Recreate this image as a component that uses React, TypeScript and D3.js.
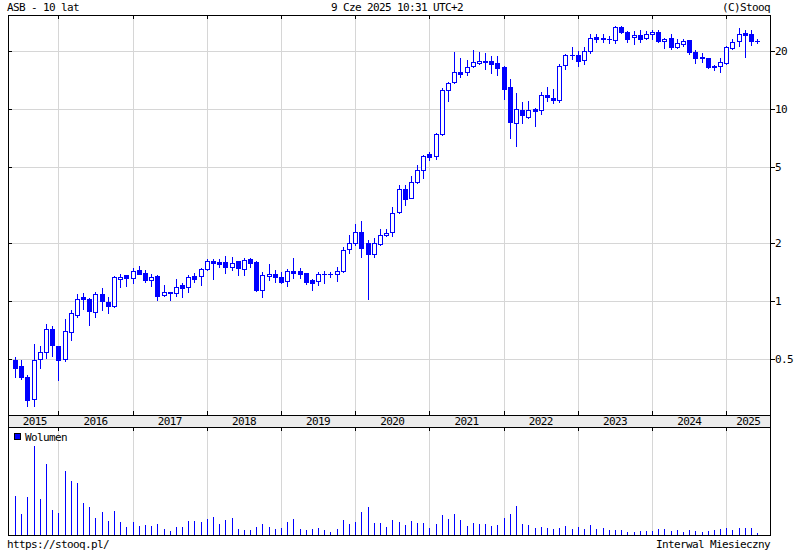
import React from 'react';
import * as d3 from 'd3';

// Monthly candles, Jun 2015 .. Jun 2025
const months: Date[] = d3.timeMonth.range(new Date(2015, 5, 1), new Date(2025, 6, 1));

const open = [
  0.49, 0.46, 0.40, 0.31, 0.50, 0.54, 0.715, 0.58, 0.50, 0.69,
  0.85, 1.05, 1.03, 0.88, 1.09, 0.99, 0.945, 1.30, 1.365, 1.31,
  1.45, 1.40, 1.28, 1.35, 1.07, 1.12, 1.10, 1.21, 1.18, 1.35,
  1.35, 1.46, 1.615, 1.60, 1.60, 1.50, 1.615, 1.475, 1.65, 1.60,
  1.14, 1.345, 1.385, 1.34, 1.265, 1.43, 1.43, 1.40, 1.285, 1.265,
  1.375, 1.38, 1.38, 1.44, 1.86, 2.01, 2.29, 2.0, 1.75, 1.98,
  2.20, 2.28, 2.90, 3.82, 3.45, 4.15, 4.79, 5.83, 5.69, 7.4,
  12.5, 13.9, 15.55, 15.5, 16.7, 17.4, 17.8, 17.7, 17.3, 16.5,
  12.95, 8.43, 9.92, 9.05, 10.0, 9.85, 11.9, 11.37, 11.14, 16.9,
  19.0, 19.1, 18.0, 20.05, 23.7, 23.2, 23.1, 22.8, 26.8, 25.3,
  23.6, 24.3, 23.4, 24.6, 25.1, 22.7, 23.4, 21.1, 21.75, 22.9,
  19.9, 18.7, 18.35, 16.75, 16.85, 17.45, 20.7, 22.6, 24.75, 24.6,
  22.55,
];
const high = [
  0.51, 0.49, 0.41, 0.60, 0.58, 0.76, 0.74, 0.585, 0.81, 0.90,
  1.09, 1.10, 1.035, 1.11, 1.165, 1.05, 1.35, 1.38, 1.37, 1.48,
  1.52, 1.45, 1.38, 1.365, 1.21, 1.12, 1.30, 1.235, 1.365, 1.40,
  1.485, 1.66, 1.66, 1.655, 1.71, 1.69, 1.62, 1.67, 1.67, 1.61,
  1.415, 1.56, 1.455, 1.41, 1.46, 1.67, 1.48, 1.40, 1.305, 1.42,
  1.43, 1.41, 1.50, 1.92, 2.22, 2.52, 2.61, 2.08, 2.12, 2.36,
  2.36, 3.08, 4.0, 4.02, 4.48, 5.1, 5.76, 6.0, 7.5, 12.8,
  13.9, 19.7, 18.5, 18.0, 20.4, 19.7, 19.5, 18.8, 18.9, 16.75,
  14.3, 12.05, 10.9, 11.0, 10.15, 12.3, 12.95, 12.65, 17.1, 19.35,
  21.05, 20.05, 21.1, 24.5, 24.5, 24.5, 23.95, 27.1, 27.1, 25.6,
  25.6, 25.8, 25.5, 25.8, 25.8, 23.5, 24.5, 23.2, 23.1, 22.95,
  20.2, 19.6, 18.5, 17.05, 18.35, 21.35, 23.2, 26.3, 25.8, 25.8,
  23.2,
];
const low = [
  0.40, 0.394, 0.285, 0.285, 0.45, 0.505, 0.52, 0.39, 0.485, 0.63,
  0.83, 0.905, 0.75, 0.83, 0.90, 0.87, 0.935, 1.18, 1.19, 1.245,
  1.38, 1.26, 1.20, 1.01, 1.065, 1.01, 1.065, 1.05, 1.12, 1.26,
  1.215, 1.455, 1.305, 1.51, 1.40, 1.45, 1.37, 1.37, 1.50, 1.13,
  1.05, 1.28, 1.26, 1.235, 1.19, 1.32, 1.31, 1.23, 1.145, 1.21,
  1.245, 1.34, 1.27, 1.42, 1.77, 1.95, 1.70, 1.03, 1.70, 1.96,
  2.18, 2.19, 2.89, 3.15, 3.43, 4.14, 4.37, 5.4, 5.52, 7.35,
  11.05, 13.7, 14.7, 15.05, 16.6, 17.1, 16.1, 15.4, 15.0, 11.3,
  7.08, 6.42, 8.43, 8.98, 8.19, 9.4, 11.0, 10.8, 10.9, 16.25,
  18.15, 16.85, 17.1, 19.5, 22.4, 22.4, 22.0, 22.05, 24.9, 22.4,
  21.8, 22.4, 23.2, 23.2, 22.4, 20.7, 20.55, 20.7, 21.35, 19.4,
  17.3, 17.65, 16.3, 16.0, 15.5, 17.2, 20.55, 21.35, 18.7, 21.65,
  22.1,
];
const close = [
  0.45, 0.40, 0.305, 0.49, 0.54, 0.715, 0.59, 0.49, 0.70, 0.87,
  1.03, 1.02, 0.89, 1.09, 1.00, 0.945, 1.33, 1.34, 1.31, 1.43,
  1.39, 1.28, 1.33, 1.065, 1.12, 1.10, 1.18, 1.175, 1.33, 1.305,
  1.46, 1.615, 1.57, 1.565, 1.50, 1.57, 1.49, 1.635, 1.58, 1.14,
  1.37, 1.38, 1.33, 1.26, 1.43, 1.405, 1.39, 1.255, 1.245, 1.385,
  1.38, 1.385, 1.43, 1.845, 2.00, 2.29, 1.88, 1.76, 2.0, 2.20,
  2.25, 2.87, 3.82, 3.38, 4.17, 4.79, 5.69, 5.65, 7.38, 12.5,
  13.6, 15.5, 15.2, 16.5, 17.55, 17.7, 17.5, 17.1, 16.3, 12.65,
  8.53, 9.96, 9.27, 9.92, 9.8, 11.85, 11.55, 11.14, 16.85, 19.1,
  19.15, 17.7, 20.05, 23.5, 23.05, 23.35, 23.25, 26.6, 25.1, 23.2,
  24.3, 23.15, 24.6, 25.1, 22.6, 23.2, 21.1, 22.0, 22.6, 19.9,
  18.5, 18.35, 16.5, 16.5, 17.5, 20.95, 22.25, 24.6, 24.4, 22.7,
  22.6,
];
// volume, thousands of shares
const volume = [
  39, 21, 38, 89, 36, 71, 25, 22, 64, 54,
  52, 32, 28, 17, 23, 14, 24, 13, 8, 13,
  9, 10, 9, 11, 6, 4, 8, 8, 14, 14,
  13, 16, 18, 11, 15, 17, 6, 5, 5, 8,
  11, 8, 6, 7, 13, 16, 6, 5, 6, 7,
  5, 3, 6, 15, 11, 13, 23, 28, 12, 12,
  8, 15, 13, 10, 14, 12, 12, 7, 11, 20,
  16, 21, 15, 9, 12, 11, 11, 9, 10, 17,
  21, 29, 11, 10, 7, 8, 7, 6, 7, 9,
  6, 8, 6, 10, 6, 7, 5, 5, 5, 3,
  3, 4, 4, 4, 6, 6, 4, 5, 3, 5,
  4, 3, 4, 5, 6, 7, 5, 7, 7, 7,
  2,
];

const yTicks = [0.5, 1, 2, 5, 10, 20];
const years = [2015, 2016, 2017, 2018, 2019, 2020, 2021, 2022, 2023, 2024, 2025];

const BLUE = '#0000ff';
const GRID = '#d6d6d6';
const FONT = 'DejaVu Sans Mono, monospace';

export default function App() {
  const W = 800, H = 550;
  const L = 8, R = 770, T = 15, B = 415, bandB = 427, vB = 535;

  const first = months[0];
  const mIdx = (d: Date) => (d.getFullYear() - first.getFullYear()) * 12 + d.getMonth() - first.getMonth();
  const x = d3.scaleLinear().domain([-1.148, 122.07]).range([L, R]);
  const y = d3.scaleLog().domain([0.2548, 30.88]).range([B, T]);
  const yv = d3.scaleLinear().domain([0, 100]).range([vB, vB - 100]);

  const yearBounds = years.slice(1).map((yr) => Math.round(x(mIdx(new Date(yr, 0, 1)))));
  const yearLabels = years.map((yr) => {
    const a = Math.max(x(mIdx(new Date(yr, 0, 1))), L + 3);
    const b = Math.min(x(mIdx(new Date(yr + 1, 0, 1))), R);
    return { yr, cx: (a + b) / 2 };
  });

  return (
    <svg width={W} height={H} style={{ position: 'absolute', left: 0, top: 0, background: '#fff' }}
      fontFamily={FONT} fontSize={11} letterSpacing={-0.62}>
      <rect x={0} y={0} width={W} height={H} fill="#fff" />
      {/* header */}
      <text x={7} y={11} fill="#000">ASB - 10 lat</text>
      <text x={397} y={11} textAnchor="middle" fill="#000">9 Cze 2025 10:31 UTC+2</text>
      <text x={770} y={11} textAnchor="end" fill="#000">(C)Stooq</text>

      <g shapeRendering="crispEdges">
        {/* horizontal grid */}
        {yTicks.map((t) => (
          <line key={'hg' + t} x1={L} x2={R} y1={Math.round(y(t)) + 0.5} y2={Math.round(y(t)) + 0.5} stroke={GRID} />
        ))}
        {/* vertical grid */}
        {yearBounds.map((bx) => (
          <g key={'vg' + bx}>
            <line x1={bx + 0.5} x2={bx + 0.5} y1={T} y2={B} stroke={GRID} />
            <line x1={bx + 0.5} x2={bx + 0.5} y1={bandB} y2={vB} stroke={GRID} />
          </g>
        ))}
        {/* band */}
        <rect x={L} y={B} width={R - L} height={bandB - B} fill="#ececec" />
      </g>

      {/* candles */}
      <g shapeRendering="crispEdges">
        {months.map((m, i) => {
          const cx = Math.round(x(i));
          const yo = y(open[i]), yc = y(close[i]);
          const yh = Math.round(y(high[i])), yl = Math.round(y(low[i]));
          const up = close[i] >= open[i];
          const top = Math.round(Math.min(yo, yc));
          const bot = Math.round(Math.max(yo, yc));
          let body;
          if (bot - top < 1) {
            body = <rect x={cx - 2} y={top} width={5} height={1} fill={BLUE} />;
          } else if (up) {
            body = <rect x={cx - 1.5} y={top + 0.5} width={4} height={bot - top} fill="#fff" stroke={BLUE} />;
          } else {
            body = <rect x={cx - 2} y={top} width={5} height={bot - top + 1} fill={BLUE} />;
          }
          return (
            <g key={'c' + i}>
              <rect x={cx} y={yh} width={1} height={Math.max(1, yl - yh + 1)} fill={BLUE} />
              {body}
            </g>
          );
        })}
      </g>

      {/* volume bars */}
      <g shapeRendering="crispEdges">
        {months.map((m, i) => {
          const cx = Math.round(x(i));
          const top = Math.round(yv(volume[i]));
          return <rect key={'v' + i} x={cx} y={top} width={1} height={vB - top} fill={BLUE} />;
        })}
      </g>

      {/* frame + ticks */}
      <g shapeRendering="crispEdges" stroke="#000" fill="none">
        <line x1={L + 0.5} x2={L + 0.5} y1={T} y2={vB + 1} />
        <line x1={R + 0.5} x2={R + 0.5} y1={T} y2={vB + 1} />
        <line x1={L} x2={R + 1} y1={T + 0.5} y2={T + 0.5} />
        <line x1={L} x2={R + 1} y1={B + 0.5} y2={B + 0.5} />
        <line x1={L} x2={R + 1} y1={bandB + 0.5} y2={bandB + 0.5} />
        <line x1={L} x2={R + 1} y1={vB + 0.5} y2={vB + 0.5} />
        {yearBounds.map((bx) => (
          <g key={'tk' + bx}>
            <line x1={bx + 0.5} x2={bx + 0.5} y1={T} y2={T + 4} />
            <line x1={bx + 0.5} x2={bx + 0.5} y1={B - 4} y2={B} />
            <line x1={bx + 0.5} x2={bx + 0.5} y1={bandB} y2={bandB + 4} />
          </g>
        ))}
        {yTicks.map((t) => (
          <g key={'yt' + t}>
            <line x1={L} x2={L + 4} y1={Math.round(y(t)) + 0.5} y2={Math.round(y(t)) + 0.5} />
            <line x1={R} x2={R + 5} y1={Math.round(y(t)) + 0.5} y2={Math.round(y(t)) + 0.5} />
          </g>
        ))}
      </g>

      {/* axis labels */}
      {yTicks.map((t) => (
        <text key={'yl' + t} x={775} y={Math.round(y(t)) + 4} fill="#000">{t < 1 ? d3.format('.1f')(t) : String(t)}</text>
      ))}
      {yearLabels.map((d) => (
        <text key={'xl' + d.yr} x={d.cx} y={425} textAnchor="middle" fill="#000">{d.yr}</text>
      ))}

      {/* legend */}
      <rect x={14.5} y={433.5} width={6} height={6} fill={BLUE} stroke="#000" shapeRendering="crispEdges" />
      <text x={25} y={441} fill="#000">Wolumen</text>

      {/* footer */}
      <text x={7} y={548} fill="#000">https://stooq.pl/</text>
      <text x={770} y={548} textAnchor="end" fill="#000">Interwal Miesieczny</text>
    </svg>
  );
}
